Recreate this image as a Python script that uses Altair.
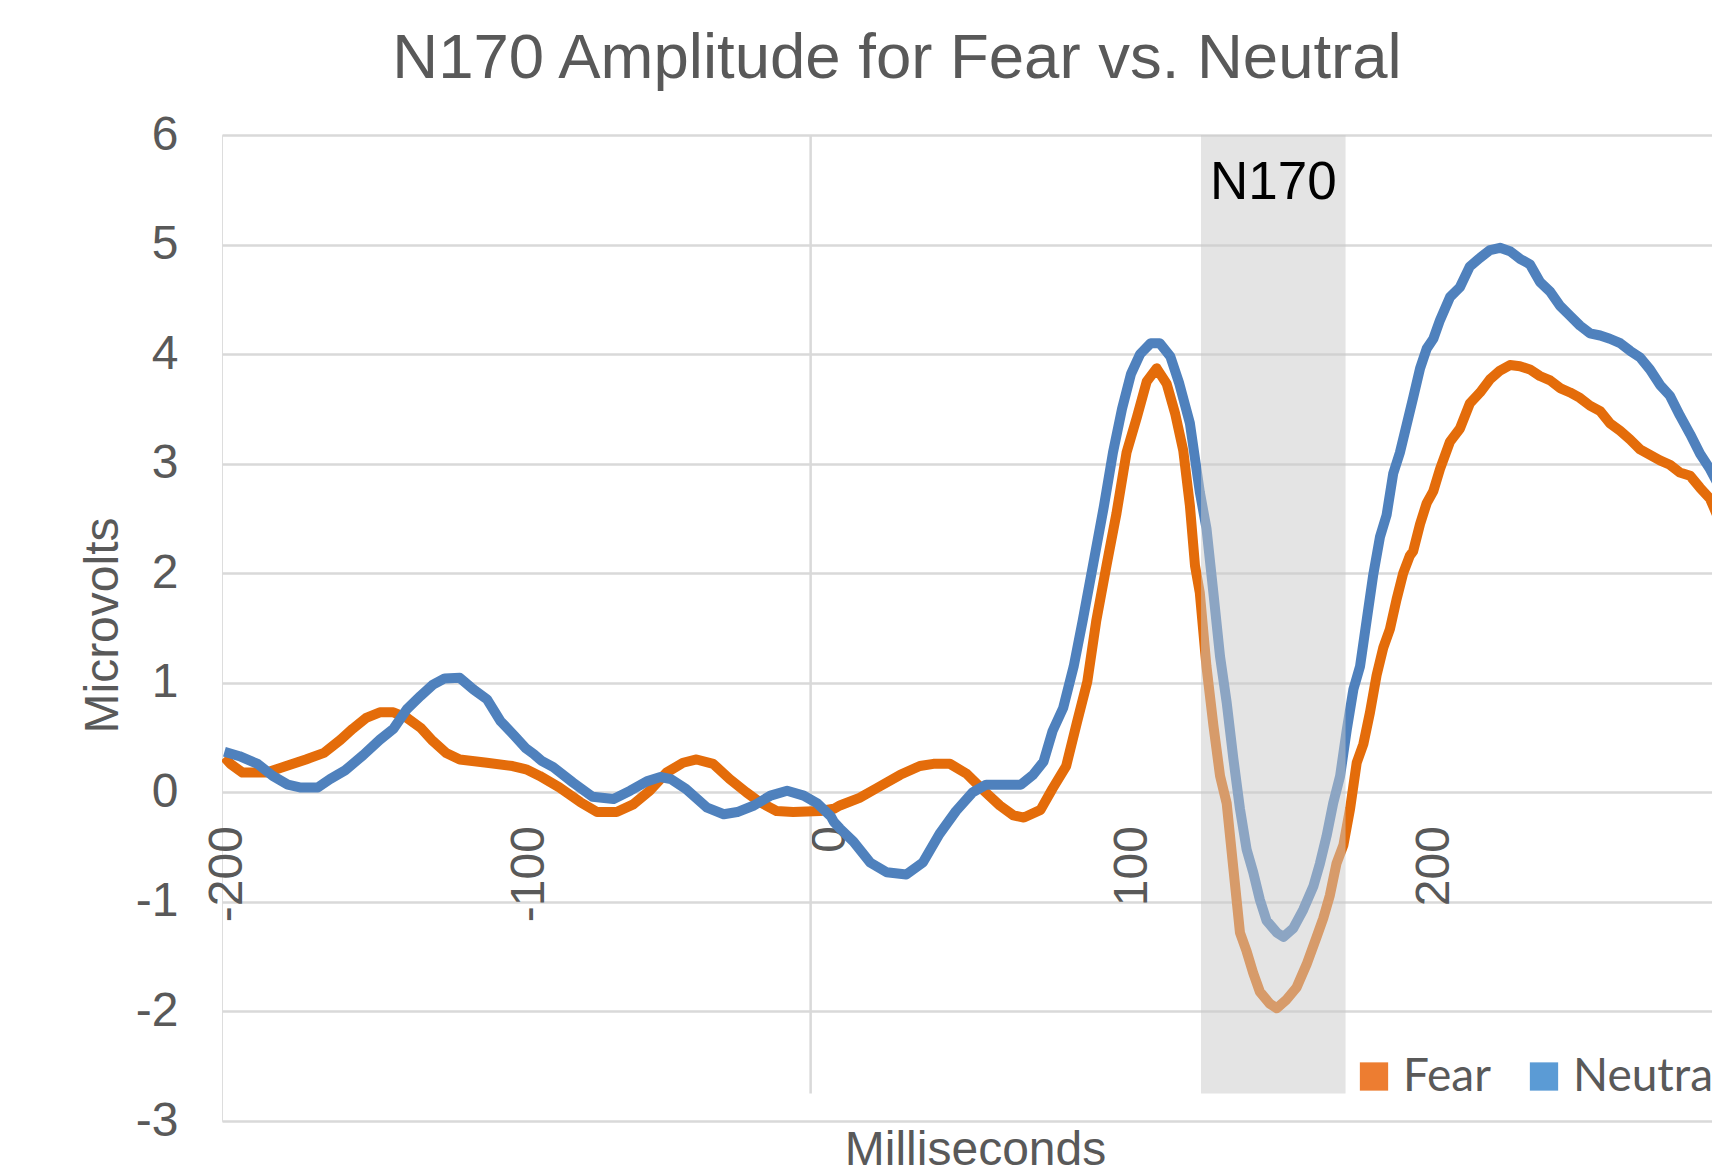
import altair as alt
import pandas as pd

# ---- data ----
SERIES = ["Fear", "Neutral"]

FEAR_MS = [-200, -198, -194, -186, -179.5, -173, -167, -161.5, -157.5, -153, -148.5, -144, -139.5,
           -135, -131, -126.5, -122, -113, -104.5, -100, -95.5, -89, -82, -76.5, -70, -64.5, -59,
           -53.5, -48, -43.5, -38, -32.5, -27, -22.5, -17, -11.5, -2.5, 2, 4, 10.5, 16, 24, 30.5,
           35, 40.5, 46, 51.5, 57, 61.5, 65, 70.5, 74.5, 79, 82.5, 86, 89, 92.5, 95.7, 99, 102.4,
           105.7, 109, 112.3, 115.1, 117.8, 120, 121.7, 123.3, 125.5, 127.8, 130, 132.2, 134.4,
           136.6, 138.8, 141, 143.2, 146.5, 148.8, 152.1, 155.4, 158.7, 162, 164.2, 166.4, 168.6,
           170.9, 173.1, 175.3, 177.5, 179.7, 181.9, 184.1, 186.3, 188.5, 190.7, 192.9, 194, 196.3,
           198.5, 200.7, 202.9, 206.2, 209.5, 212.8, 216.2, 219.5, 222.8, 226.1, 229.4, 232.7, 236,
           239.4, 242.7, 246, 249.3, 252.6, 256, 259.2, 262.6, 265.9, 269.2, 272.5, 275.8, 279.1,
           282.4, 285.8, 289.1, 292.4, 294.6, 295.7, 299]
FEAR_UV = [0.32, 0.26, 0.18, 0.18, 0.24, 0.30, 0.36, 0.48, 0.58, 0.68, 0.73, 0.73, 0.68,
           0.59, 0.47, 0.36, 0.30, 0.27, 0.24, 0.21, 0.15, 0.045, -0.09, -0.18, -0.18, -0.11, 0.015,
           0.18, 0.27, 0.30, 0.26, 0.12, 0.0, -0.09, -0.17, -0.18, -0.17, -0.15, -0.12, -0.05, 0.035, 0.16, 0.24,
           0.26, 0.26, 0.17, 0.02, -0.12, -0.21, -0.23, -0.16, 0.035, 0.24, 0.63, 1.01, 1.57, 2.09, 2.55, 3.10, 3.42,
           3.75, 3.87, 3.73, 3.46, 3.12, 2.62, 2.07, 1.82, 1.15, 0.61, 0.15, -0.10, -0.69,
           -1.28, -1.45, -1.65, -1.82, -1.93, -1.97, -1.89, -1.78, -1.57, -1.32, -1.15, -0.94, -0.65,
           -0.48, -0.15, 0.27, 0.44, 0.73, 1.07, 1.32, 1.49, 1.76, 2.0, 2.16, 2.2, 2.45,
           2.64, 2.75, 2.95, 3.20, 3.32, 3.55, 3.65, 3.77, 3.85, 3.90, 3.89, 3.86, 3.80,
           3.76, 3.69, 3.65, 3.60, 3.53, 3.48, 3.37, 3.30, 3.22, 3.13, 3.08, 3.03, 2.99,
           2.92, 2.89, 2.78, 2.68, 2.54, 2.43, 2.2]

NEUTRAL_MS = [-200, -195, -189, -184, -179, -175, -169, -165, -160, -154, -148.5, -144, -139.5, -135,
              -131, -127, -122, -117.5, -113, -108.5, -104, -100, -97.5, -95, -91, -84.5, -78, -71,
              -65.5, -60, -55.5, -52, -47, -40, -34.5, -30, -24.5, -19, -13.5, -8, -3.5, 1, 2, 4, 8.5,
              14, 19.5, 26, 31.5, 37, 42.5, 48, 52.5, 59, 64, 68, 71.5, 74.5, 78, 81.5, 84.5, 88,
              91.5, 94.5, 97.5, 100.5, 103.5, 107, 110, 113.5, 116.5, 120, 123.3, 125.5, 127.8, 130,
              132.2, 134.4, 136.6, 138.8, 141, 143.2, 145.4, 148.8, 151, 154.3, 157.6, 160.9, 163.1,
              165.3, 167.5, 169.8, 172, 174.2, 176.4, 178.6, 180.8, 183, 185.2, 187.4, 189.6, 191.8,
              194, 196.3, 198.5, 200.7, 202.9, 206.2, 209.5, 212.8, 216.2, 219.5, 222.8, 226.1, 229.4,
              232.7, 236, 239.4, 242.7, 246, 249.3, 252.6, 256, 259.2, 262.6, 265.9, 269.2, 272.5,
              275.8, 279.1, 282.4, 285.8, 289.1, 292.4, 295.7, 299]
NEUTRAL_UV = [0.37, 0.33, 0.26, 0.15, 0.07, 0.045, 0.045, 0.12, 0.20, 0.34, 0.48, 0.58, 0.76, 0.88,
              0.98, 1.04, 1.045, 0.94, 0.85, 0.65, 0.52, 0.40, 0.35, 0.29, 0.23, 0.09, -0.04, -0.06,
              0.015, 0.10, 0.14, 0.12, 0.03, -0.14, -0.20, -0.18, -0.12, -0.03, 0.015, -0.03, -0.10, -0.22, -0.27, -0.33, -0.45,
              -0.64, -0.73, -0.75, -0.64, -0.38, -0.17, 0.0, 0.07, 0.07, 0.07, 0.16, 0.28, 0.56, 0.77, 1.15, 1.57, 2.09,
              2.61, 3.10, 3.50, 3.82, 4.0, 4.10, 4.10, 3.98, 3.73, 3.37, 2.74, 2.41, 1.82, 1.24,
              0.82, 0.31, -0.15, -0.52, -0.73, -0.98, -1.17, -1.28, -1.32, -1.24, -1.07, -0.86, -0.65,
              -0.40, -0.10, 0.15, 0.57, 0.94, 1.15, 1.57, 1.99, 2.33, 2.53, 2.91, 3.1, 3.35,
              3.6, 3.87, 4.05, 4.14, 4.31, 4.52, 4.61, 4.80, 4.88, 4.95, 4.97, 4.94, 4.87,
              4.82, 4.66, 4.57, 4.44, 4.35, 4.26, 4.19, 4.17, 4.14, 4.10, 4.03, 3.97, 3.86,
              3.72, 3.62, 3.44, 3.27, 3.09, 2.95, 2.78, 2.62]

X_TICKS = [-200, -100, 0, 100, 200, 300]
Y_TICKS = [-3, -2, -1, 0, 1, 2, 3, 4, 5, 6]
X_DOMAIN = [-200.8, 293.06]
Y_DOMAIN = [-3, 6]

BAND_LABEL = ["N170"]
BAND_START = [123.7]
BAND_END = [171.6]
BAND_TOP = [6]
BAND_BOTTOM = [-2.75]
BAND_LABEL_UV = [5.42]
AXIS_CROSS_MS = [-5.7]

LINE_COLORS = ["#E46C0A", "#4F81BD"]
LEGEND_COLORS = ["#ED7D31", "#5B9BD5"]
TEXT_GRAY = "#595959"
GRID_GRAY = "#D9D9D9"
FONT = "Liberation Sans"

fear_df = pd.DataFrame({"ms": FEAR_MS, "uv": FEAR_UV, "series": "Fear"})
neutral_df = pd.DataFrame({"ms": NEUTRAL_MS, "uv": NEUTRAL_UV, "series": "Neutral"})
band_df = pd.DataFrame({"ms": BAND_START, "ms_end": BAND_END, "uv": BAND_TOP,
                        "uv_end": BAND_BOTTOM})
band_label_df = pd.DataFrame({"ms": [(s + e) / 2 for s, e in zip(BAND_START, BAND_END)],
                              "uv": BAND_LABEL_UV, "label": BAND_LABEL})
cross_df = pd.DataFrame({"ms": AXIS_CROSS_MS, "uv": BAND_TOP, "uv_end": BAND_BOTTOM})
legend_df = pd.DataFrame({"ms": [FEAR_MS[0], NEUTRAL_MS[0]],
                          "uv": [FEAR_UV[0], NEUTRAL_UV[0]], "series": SERIES})

PLOT_W, PLOT_H = 1490, 986

x_axis = alt.Axis(values=X_TICKS, labelAngle=270, grid=False, domain=False, ticks=False,
                  tickSize=0, labelPadding=33, offset=-328.4, labelFlush=False, labelOffset=3,
                  labelExpr="'' + datum.value", labelFont=FONT, labelFontSize=48,
                  labelColor=TEXT_GRAY, labelOverlap=False,
                  title="Milliseconds", titleFont=FONT, titleFontSize=48,
                  titleFontWeight="normal", titleColor=TEXT_GRAY, titleX=753, titleY=372,
                  titleBaseline="alphabetic", titleAlign="center", titleAngle=0)
y_axis = alt.Axis(values=Y_TICKS, grid=True, gridColor=GRID_GRAY, gridWidth=2.5,
                  domain=False, ticks=False, labelPadding=44,
                  labelExpr="'' + datum.value", labelFont=FONT, labelFontSize=48,
                  labelColor=TEXT_GRAY,
                  title="Microvolts", titleFont=FONT, titleFontSize=48,
                  titleFontWeight="normal", titleColor=TEXT_GRAY, titleX=-105, titleY=490,
                  titleAngle=270, titleBaseline="alphabetic", titleAlign="center")

X_ENC = alt.X("ms:Q", scale=alt.Scale(domain=X_DOMAIN, nice=False, zero=False), axis=x_axis)
Y_ENC = alt.Y("uv:Q", scale=alt.Scale(domain=Y_DOMAIN, nice=False, zero=False), axis=y_axis)
STROKE = alt.Stroke("series:N", scale=alt.Scale(domain=SERIES, range=LINE_COLORS), legend=None)

cross_rule = alt.Chart(cross_df).mark_rule(color=GRID_GRAY, strokeWidth=2.5).encode(
    x=X_ENC, y=Y_ENC, y2="uv_end")

fear_line = alt.Chart(fear_df).mark_line(strokeWidth=10, strokeJoin="round", clip=True).encode(
    x=X_ENC, y=Y_ENC, stroke=STROKE, order="ms:Q")
neutral_line = alt.Chart(neutral_df).mark_line(strokeWidth=10, strokeJoin="round", clip=True).encode(
    x=X_ENC, y=Y_ENC, stroke=STROKE, order="ms:Q")

band = alt.Chart(band_df).mark_rect(color="#C9C9C9", opacity=0.5).encode(
    x=X_ENC, x2="ms_end", y=Y_ENC, y2="uv_end")

band_text = alt.Chart(band_label_df).mark_text(
    font=FONT, fontSize=53, color="black", baseline="alphabetic", align="center").encode(
    x=X_ENC, y=Y_ENC, text="label:N")

legend_layer = alt.Chart(legend_df).mark_square(opacity=0, size=0).encode(
    x=X_ENC, y=Y_ENC,
    fill=alt.Fill("series:N", scale=alt.Scale(domain=SERIES, range=LEGEND_COLORS),
                  legend=alt.Legend(orient="none", legendX=1129, legendY=918.5,
                                    direction="horizontal", title=None, symbolType="square",
                                    symbolSize=800, symbolStrokeWidth=0, symbolOpacity=1,
                                    labelFont="Lato", labelFontSize=46, labelColor=TEXT_GRAY,
                                    labelOffset=6, columnPadding=30, padding=0, labelLimit=0)))

chart = alt.layer(cross_rule, fear_line, neutral_line, band, band_text, legend_layer).properties(
    width=PLOT_W, height=PLOT_H,
    padding={"left": 214, "top": 127, "right": 0, "bottom": 47},
    autosize=alt.AutoSizeParams(type="none"),
    title=alt.TitleParams(text="N170 Amplitude for Fear vs. Neutral", font=FONT, fontSize=63.5,
                          fontWeight="normal", color=TEXT_GRAY, anchor="middle", frame="group",
                          dx=-70, dy=63.5, offset=33, baseline="alphabetic"),
).resolve_scale(stroke="independent", fill="independent").configure_view(stroke=None).configure(
    background="white")

chart.save("out.html", embed_options={"renderer": "svg", "actions": False})
